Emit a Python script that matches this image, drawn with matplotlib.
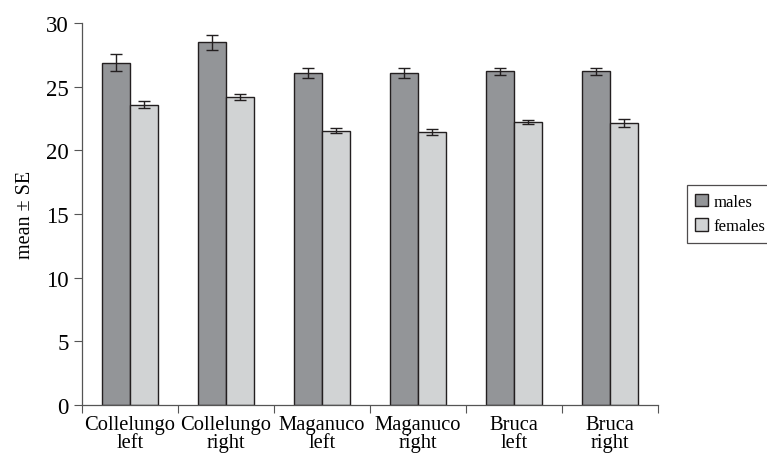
import matplotlib
matplotlib.use("Agg")
import matplotlib.pyplot as plt
import numpy as np

sites = ["Collelungo\nleft", "Collelungo\nright", "Maganuco\nleft",
         "Maganuco\nright", "Bruca\nleft", "Bruca\nright"]
males = [26.9, 28.5, 26.1, 26.1, 26.2, 26.2]
males_se = [0.7, 0.6, 0.4, 0.4, 0.3, 0.3]
females = [23.6, 24.2, 21.55, 21.45, 22.25, 22.15]
females_se = [0.25, 0.25, 0.2, 0.2, 0.15, 0.3]
yticks = [0, 5, 10, 15, 20, 25, 30]

plt.rcParams['font.family'] = ['Liberation Serif', 'DejaVu Serif']

fig = plt.figure(figsize=(7.67, 4.64), dpi=100)
ax = fig.add_axes([0.107, 0.125, 0.751, 0.823])

x = np.arange(len(sites))
w = 0.29
err_kw = dict(ecolor='#231f20', elinewidth=1.0, capsize=4, capthick=1.0)
ax.bar(x - w / 2, males, w, yerr=males_se, color='#939598', edgecolor='#231f20',
       linewidth=1.0, label='males', error_kw=err_kw)
ax.bar(x + w / 2, females, w, yerr=females_se, color='#d1d3d4', edgecolor='#231f20',
       linewidth=1.0, label='females', error_kw=err_kw)

ax.set_xlim(-0.5, len(sites) - 0.5)
ax.set_ylim(0, 30)
ax.set_yticks(yticks)
ax.set_xticks(x)
ax.set_xticklabels(sites, fontsize=14.8, linespacing=0.95)
ax.set_xticks(np.arange(len(sites) + 1) - 0.5, minor=True)
ax.tick_params(axis='x', which='major', length=0, pad=7)
ax.tick_params(axis='x', which='minor', length=6, width=0.8, color='#555555')
ax.tick_params(axis='y', labelsize=16.5, length=6, width=0.8, color='#555555')
ax.set_ylabel('mean ± SE', fontsize=14.5, labelpad=8)

for s in ['top', 'right']:
    ax.spines[s].set_visible(False)
for s in ['left', 'bottom']:
    ax.spines[s].set_color('#555555')
    ax.spines[s].set_linewidth(0.9)

leg = ax.legend(loc='center left', bbox_to_anchor=(1.035, 0.5), fontsize=12,
                frameon=True, fancybox=False, handlelength=0.8, handleheight=0.8,
                handletextpad=0.3, borderpad=0.5, labelspacing=0.5)
leg.get_frame().set_edgecolor('#231f20')
leg.get_frame().set_linewidth(0.9)

fig.savefig('out.png', dpi=100)
